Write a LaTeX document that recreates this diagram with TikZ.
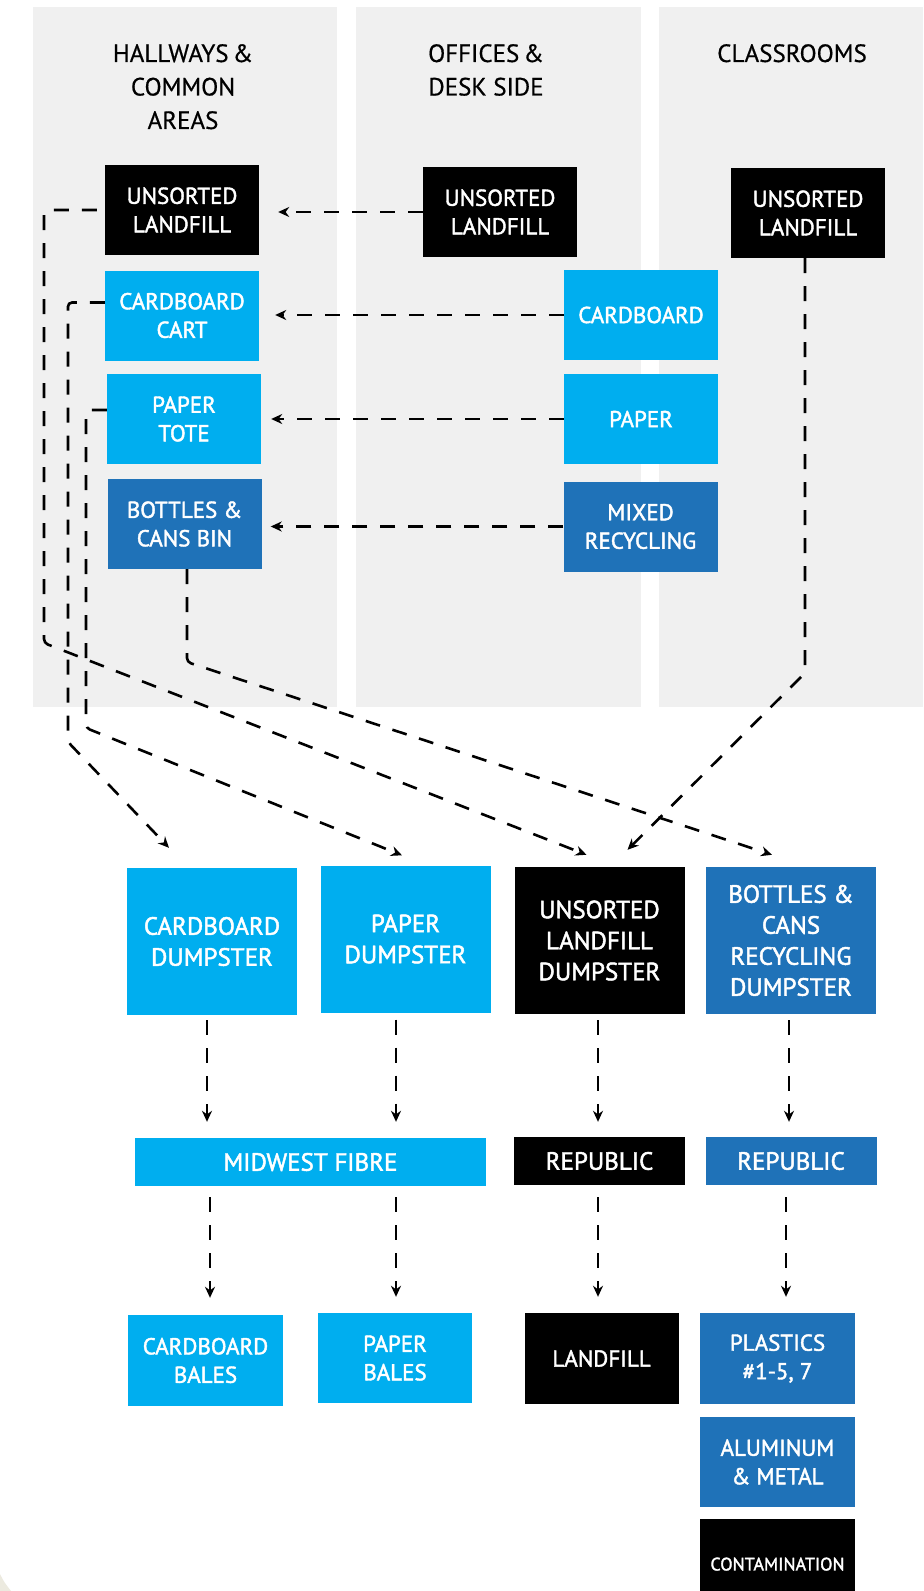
\documentclass[tikz,border=0pt]{standalone}
\usepackage{fontspec}
\setmainfont{PT Sans}
\newfontfamily\boxfont[FakeBold=1.8]{PT Sans}
\newfontfamily\titlefont[FakeBold=0.6]{PT Sans}
\usetikzlibrary{arrows.meta,calc}
\definecolor{cyanbox}{HTML}{00AEEF}
\definecolor{bluebox}{HTML}{1F72B8}
\definecolor{panelgray}{HTML}{F0F0F0}
\definecolor{beige}{HTML}{ECEADF}
\tikzset{
  box/.style={inner sep=0pt, text=white, align=center, font=\boxfont\fontsize{23bp}{28.5bp}\selectfont},
  sbox/.style={box, minimum width=154bp, minimum height=90bp},
  dbox/.style={box, minimum width=170bp, minimum height=147bp, font=\boxfont\fontsize{25bp}{31bp}\selectfont},
  rbox/.style={box, minimum width=171bp, minimum height=48bp, font=\boxfont\fontsize{25bp}{31bp}\selectfont},
  blk/.style={fill=black},
  cyn/.style={fill=cyanbox},
  blu/.style={fill=bluebox},
  title/.style={inner sep=0pt, align=center, anchor=north, font=\titlefont\fontsize{25bp}{33.5bp}\selectfont},
  dsh/.style={line width=2.6bp, dash pattern=on 15bp off 13bp, -{Stealth[length=11bp,width=10bp]}},
}
\begin{document}
\begin{tikzpicture}[x=1bp,y=-1bp]
\useasboundingbox (0,0) rectangle (923,1591);
\fill[white] (0,0) rectangle (923,1591);
\fill[beige] (0,1574) .. controls (4,1582) .. (11,1591) -- (0,1591) -- cycle;
% panels
\fill[panelgray] (33,7) rectangle (337,707);
\fill[panelgray] (356,7) rectangle (641,707);
\fill[panelgray] (659,7) rectangle (923,707);
% titles
\node[title] (t1) at (183,44) {HALLWAYS\,\&\\COMMON\\AREAS};
\node[title] (t2) at (486,44) {OFFICES\,\&\\DESK SIDE};
\node[title] (t3) at (792,44) {CLASSROOMS};
% top boxes
\node[sbox,blk] (ul) at (182,210) {UNSORTED\\LANDFILL};
\node[sbox,cyn] (cc) at (182,315.5) {CARDBOARD\\CART};
\node[sbox,cyn] (pt) at (184,419) {PAPER\\TOTE};
\node[sbox,blu] (bb) at (184.5,524) {BOTTLES \&\\CANS BIN};
\node[sbox,blk] (ou) at (500,212) {UNSORTED\\LANDFILL};
\node[sbox,cyn] (oc) at (641,315) {CARDBOARD};
\node[sbox,cyn] (op) at (641,419) {PAPER};
\node[sbox,blu] (om) at (640.5,526.5) {MIXED\\RECYCLING};
\node[sbox,blk] (cu) at (808,213) {UNSORTED\\LANDFILL};
% dumpsters
\node[dbox,cyn] (cd) at (212,941.5) {CARDBOARD\\DUMPSTER};
\node[dbox,cyn] (pd) at (405.5,939) {PAPER\\DUMPSTER};
\node[dbox,blk] (ld) at (599.5,940.5) {UNSORTED\\LANDFILL\\DUMPSTER};
\node[dbox,blu] (bd) at (791,940.5) {BOTTLES \&\\CANS\\RECYCLING\\DUMPSTER};
% haulers
\node[rbox,cyn,minimum width=351bp] (mf) at (310.5,1162) {MIDWEST FIBRE};
\node[rbox,blk] (r1) at (599.5,1161) {REPUBLIC};
\node[rbox,blu] (r2) at (791,1161) {REPUBLIC};
% outputs
\node[sbox,cyn,minimum width=155bp,minimum height=91bp] (cb) at (205.5,1360.5) {CARDBOARD\\BALES};
\node[sbox,cyn] (pb) at (395,1358) {PAPER\\BALES};
\node[sbox,blk,minimum height=91bp] (lf) at (601.5,1358.5) {LANDFILL};
\node[sbox,blu,minimum width=155bp,minimum height=91bp] (pl) at (777.5,1358.5) {PLASTICS\\\#1-5, 7};
\node[sbox,blu,minimum width=155bp] (al) at (777.5,1462) {ALUMINUM\\\& METAL};
\node[sbox,blk,minimum width=155bp,font=\boxfont\fontsize{18bp}{22bp}\selectfont,text depth=0pt] (ct) at (777.5,1564) {CONTAMINATION};
% horizontal arrows
\draw[dsh,shorten >=19bp] (ou.west) -- (ou.west -| ul.east);
\draw[dsh,shorten >=16bp] (oc.west) -- (oc.west -| cc.east);
\draw[dsh,shorten >=10bp] (op.west) -- (op.west -| pt.east);
\draw[dsh,shorten >=9bp] (om.west) -- (om.west -| bb.east);
% routes to dumpsters
\coordinate (ldA) at ($(ld.north)+(-13,-12)$);
\coordinate (ldB) at ($(ld.north)+(28,-17)$);
\coordinate (cdA) at ($(cd.north)+(-43,-20)$);
\coordinate (pdA) at ($(pd.north)+(-3.5,-10)$);
\coordinate (bdA) at ($(bd.north)+(-19,-12)$);
\draw[dsh,rounded corners=4bp] ($(ul.west)+(-8,0)$) -- (44,210) -- (44,643) -- (ldA);
\draw[dsh,rounded corners=4bp] ($(cc.west)+(0,-13)$) -- (68,302.5) -- (68,742) -- (cdA);
\draw[dsh,rounded corners=4bp] ($(pt.west)+(0,-9)$) -- (86,410) -- (86,728) -- (pdA);
\draw[dsh,rounded corners=4bp] (187,569) -- (187,662) -- (bdA);
\draw[dsh,rounded corners=4bp] (805,258) -- (805,673) -- (ldB);
% vertical arrows dumpster -> hauler
\draw[dsh,shorten <=5bp,shorten >=16bp] ($(cd.south)+(-5,0)$) -- ($(cd.south |- mf.north)+(-5,0)$);
\draw[dsh,shorten <=7bp,shorten >=16bp] ($(pd.south)+(-9.5,0)$) -- ($(pd.south |- mf.north)+(-9.5,0)$);
\draw[dsh,shorten <=6bp,shorten >=15bp] ($(ld.south)+(-1.5,0)$) -- ($(ld.south |- r1.north)+(-1.5,0)$);
\draw[dsh,shorten <=6bp,shorten >=15bp] ($(bd.south)+(-2,0)$) -- ($(bd.south |- r2.north)+(-2,0)$);
% vertical arrows hauler -> output
\draw[dsh,shorten <=11bp,shorten >=17bp] ($(mf.south -| cb.north)+(4.5,0)$) -- ($(cb.north)+(4.5,0)$);
\draw[dsh,shorten <=11bp,shorten >=16bp] ($(mf.south -| pb.north)+(1,0)$) -- ($(pb.north)+(1,0)$);
\draw[dsh,shorten <=12bp,shorten >=16bp] ($(r1.south -| lf.north)+(-3.5,0)$) -- ($(lf.north)+(-3.5,0)$);
\draw[dsh,shorten <=12bp,shorten >=16bp] ($(r2.south -| pl.north)+(8.5,0)$) -- ($(pl.north)+(8.5,0)$);
\end{tikzpicture}
\end{document}
